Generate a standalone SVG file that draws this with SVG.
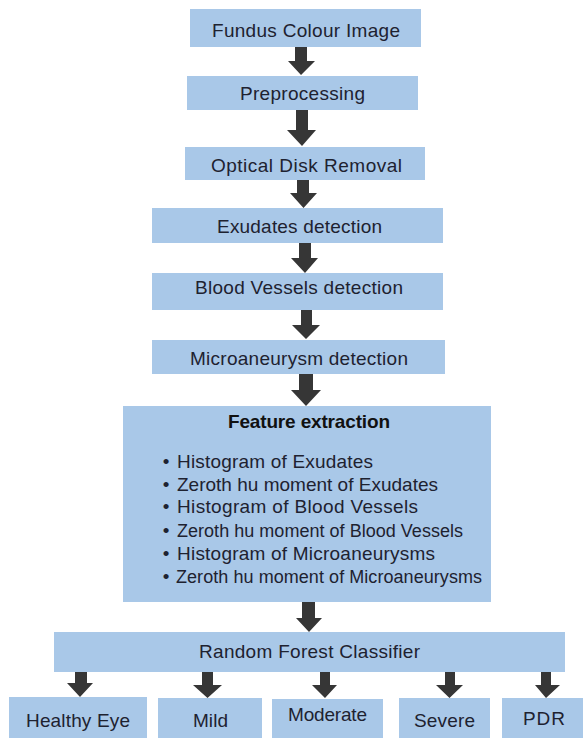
<svg xmlns="http://www.w3.org/2000/svg" width="583" height="738" viewBox="0 0 583 738">
<style>
.box{fill:#a9c8e8;}
.t{font-family:"Liberation Sans",Arial,sans-serif;font-size:19px;fill:#1e2230;text-anchor:middle;}
.b{font-family:"Liberation Sans",Arial,sans-serif;font-size:19px;fill:#1e2230;}
.s{font-size:18px;}
.bold{font-weight:bold;fill:#111;}
.arr{fill:#363636;}
</style>
<rect width="583" height="738" fill="#ffffff"/>
<g id="connectors">
<polygon class="arr" points="295,47 307,47 307,61 315,61 301,75 288,61 295,61"/>
<polygon class="arr" points="296,110 308,110 308,130 316,130 302,146 287,130 296,130"/>
<polygon class="arr" points="297,180 309,180 309,193 317,193 303.5,208 290,193 297,193"/>
<polygon class="arr" points="299,243 311,243 311,258 318,258 305,273 291,258 299,258"/>
<polygon class="arr" points="301,310 312,310 312,325 320,325 306,339 292,325 301,325"/>
<polygon class="arr" points="299,374 313,374 313,390 321,390 306,406 291,390 299,390"/>
<polygon class="arr" points="302,602 315,602 315,618 322,618 309,632 296,618 302,618"/>
<polygon class="arr" points="75,672 87,672 87,683 93,683 80,697 67,683 75,683"/>
<polygon class="arr" points="202,672 213,672 213,685 222,685 207.5,698 193,685 202,685"/>
<polygon class="arr" points="320,672 330,672 330,685 337,685 325,698 312,685 320,685"/>
<polygon class="arr" points="445,672 455,672 455,685 463,685 449.5,698 436,685 445,685"/>
<polygon class="arr" points="541,672 551,672 551,685 560,685 546,698 535,685 541,685"/>
</g>
<g id="n1"><rect class="box" x="190" y="9" width="231" height="38"/><text class="t" x="306" y="37" textLength="188" lengthAdjust="spacing">Fundus  Colour Image</text></g>
<g id="n2"><rect class="box" x="187" y="76" width="231" height="34"/><text class="t" x="302.5" y="100" textLength="125" lengthAdjust="spacing">Preprocessing</text></g>
<g id="n3"><rect class="box" x="185" y="147" width="240" height="33"/><text class="t" x="306.5" y="172" textLength="191" lengthAdjust="spacing">Optical Disk Removal</text></g>
<g id="n4"><rect class="box" x="152" y="208" width="291" height="35"/><text class="t" x="299.5" y="233" textLength="165" lengthAdjust="spacing">Exudates detection</text></g>
<g id="n5"><rect class="box" x="152" y="273" width="291" height="37"/><text class="t" x="299" y="294" textLength="208" lengthAdjust="spacing">Blood Vessels detection</text></g>
<g id="n6"><rect class="box" x="152" y="340" width="293" height="34"/><text class="t" x="299" y="365" textLength="218" lengthAdjust="spacing">Microaneurysm  detection</text></g>
<g id="n7"><rect class="box" x="123" y="406" width="368" height="196"/>
<text class="t bold" x="309" y="428" textLength="162" lengthAdjust="spacing">Feature extraction</text>
<text class="t" x="166" y="468">•</text><text class="b" x="177" y="468" textLength="196" lengthAdjust="spacing">Histogram  of Exudates</text>
<text class="t" x="166" y="491">•</text><text class="b" x="177" y="491" textLength="261" lengthAdjust="spacing">Zeroth  hu  moment  of Exudates</text>
<text class="t" x="166" y="513">•</text><text class="b" x="177" y="513" textLength="241" lengthAdjust="spacing">Histogram  of Blood Vessels</text>
<text class="t" x="166" y="537">•</text><text class="b s" x="177" y="537" textLength="286" lengthAdjust="spacing">Zeroth hu moment of Blood Vessels</text>
<text class="t" x="166" y="560">•</text><text class="b" x="177" y="560" textLength="258" lengthAdjust="spacing">Histogram  of Microaneurysms</text>
<text class="t" x="166" y="583">•</text><text class="b s" x="176" y="583" textLength="306" lengthAdjust="spacing">Zeroth hu moment of Microaneurysms</text>
</g>
<g id="n8"><rect class="box" x="54" y="632" width="511" height="40"/><text class="t" x="309.5" y="658" textLength="221" lengthAdjust="spacing">Random  Forest Classifier</text></g>
<g id="n9"><rect class="box" x="9" y="697" width="138" height="44"/><text class="t" x="78" y="727" textLength="104" lengthAdjust="spacing">Healthy  Eye</text></g>
<g id="n10"><rect class="box" x="158" y="698" width="104" height="43"/><text class="t" x="210.5" y="727" textLength="35" lengthAdjust="spacing">Mild</text></g>
<g id="n11"><rect class="box" x="272" y="699" width="111" height="42"/><text class="t" x="327.5" y="721" textLength="79" lengthAdjust="spacing">Moderate</text></g>
<g id="n12"><rect class="box" x="399" y="698" width="91" height="43"/><text class="t" x="444.5" y="727" textLength="61" lengthAdjust="spacing">Severe</text></g>
<g id="n13"><rect class="box" x="502" y="698" width="81" height="43"/><text class="t" x="544" y="725" textLength="42" lengthAdjust="spacing">PDR</text></g>
</svg>
